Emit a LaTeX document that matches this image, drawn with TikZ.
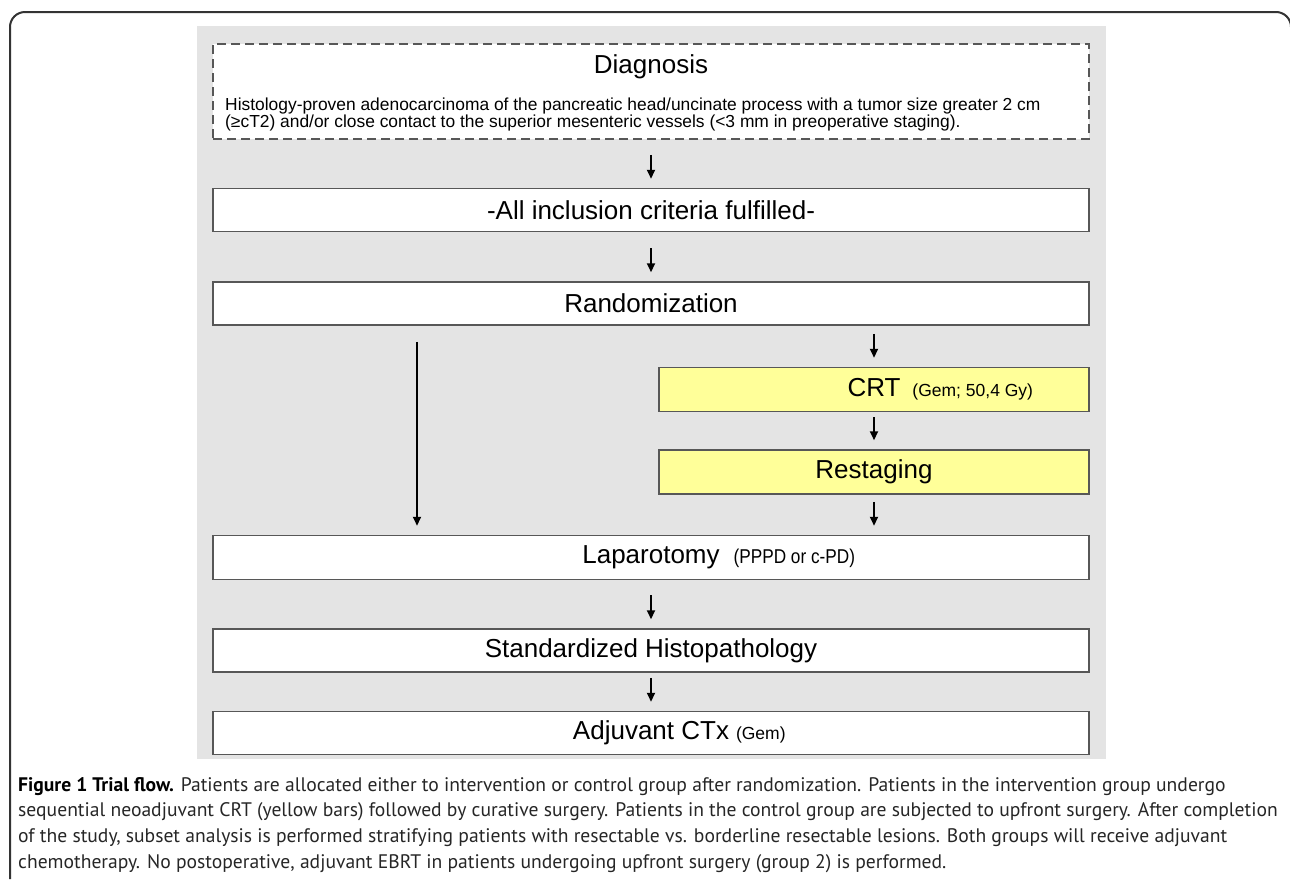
\documentclass[tikz,border=0pt]{standalone}
\usepackage{fontspec}
\setmainfont{Liberation Sans}
\newfontfamily\capfont{PT Sans}
\newfontfamily\narrowfont[FakeStretch=0.86]{Liberation Sans}
\usepackage{tikz}
\usetikzlibrary{positioning}
\usetikzlibrary{arrows.meta}
\definecolor{panelgray}{HTML}{E4E4E4}
\definecolor{boxline}{HTML}{575757}
\definecolor{crtyellow}{HTML}{FFFF99}
\tikzset{stage/.style ={draw=boxline, line width=1.5pt, fill=white, minimum width=876pt, minimum height=43pt, inner sep=0pt, font=\fontsize{26}{30}\selectfont}}
\tikzset{sidestage/.style ={stage, fill=crtyellow, minimum width=430pt, minimum height=44pt}}
\tikzset{flow/.style ={-{Triangle[width=8pt,length=9pt]}, line width=2pt, shorten >=9pt}}
\newcommand{\aside}[1]{\fontsize{17.5}{20}\selectfont #1}

\begin{document}
\begin{tikzpicture}[x=1pt,y=1pt]
\useasboundingbox (0,0) rectangle (1290,-879);
\draw[line width=2pt, black!80, rounded corners=15pt] (10,-879) -- (10,-12) -- (1291,-12) -- (1291,-879);
\fill[panelgray] (197,-26) rectangle (1106,-759);

\node[stage, dash pattern=on 9pt off 5pt, minimum height=95pt] (diag) at (651,-91.5) {};
\node[font=\fontsize{26}{30}\selectfont] (diagtitle) at (651,-67) {Diagnosis};
\node[anchor=north west, inner sep=0pt, align=left, font=\fontsize{17.4}{16.8}\selectfont] (diagtext) at (225,-97.5)
  {Histology-proven adenocarcinoma of the pancreatic head/uncinate process with a tumor size greater 2 cm\\
   (≥cT2) and/or close contact to the superior mesenteric vessels (<3 mm in preoperative staging).};
\node[stage, below=48pt of diag] (incl) {-All inclusion criteria fulfilled-};
\node[stage, below=49pt of incl] (rand) {Randomization};
\node[sidestage, anchor=north east] (crt) at ([yshift=-41pt]rand.south east) {CRT\rlap{\hspace{12pt}\aside{(Gem; 50,4 Gy)}}};
\node[sidestage, below=37pt of crt] (restage) {Restaging};
\node[stage, minimum height=44pt, anchor=north] (lapa) at ([yshift=-40pt]restage.south -| rand.south) {Laparotomy\rlap{\hspace{14pt}\fontsize{20}{22}\narrowfont (PPPD or c-PD)}};
\node[stage, below=48pt of lapa] (histo) {Standardized Histopathology};
\node[stage, below=38pt of histo] (adjctx) {Adjuvant CTx\rlap{\hspace{7pt}\aside{(Gem)}}};

\draw[flow, shorten <=15pt] (diag) -- (incl);
\draw[flow, shorten <=16pt] (incl) -- (rand);
\draw[flow, shorten <=16pt] ([xshift=-234pt]rand.south) -- ([xshift=-234pt]lapa.north);
\draw[flow, shorten <=8pt] (crt.north |- rand.south) -- (crt);
\draw[flow, shorten <=5pt] (crt) -- (restage);
\draw[flow, shorten <=7pt] (restage) -- (restage.south |- lapa.north);
\draw[flow, shorten <=15pt] (lapa) -- (histo);
\draw[flow, shorten <=5pt] (histo) -- (adjctx);

\node[anchor=north west, inner sep=0pt, align=left, black!85, font=\capfont\fontsize{19.6}{25.7}\selectfont] (caption) at (18,-777)
  {\textbf{\color{black}Figure 1 Trial flow.} Patients are allocated either to intervention or control group after randomization. Patients in the intervention group undergo\\
   sequential neoadjuvant CRT (yellow bars) followed by curative surgery. Patients in the control group are subjected to upfront surgery. After completion\\
   of the study, subset analysis is performed stratifying patients with resectable vs. borderline resectable lesions. Both groups will receive adjuvant\\
   chemotherapy. No postoperative, adjuvant EBRT in patients undergoing upfront surgery (group 2) is performed.};
\end{tikzpicture}
\end{document}
